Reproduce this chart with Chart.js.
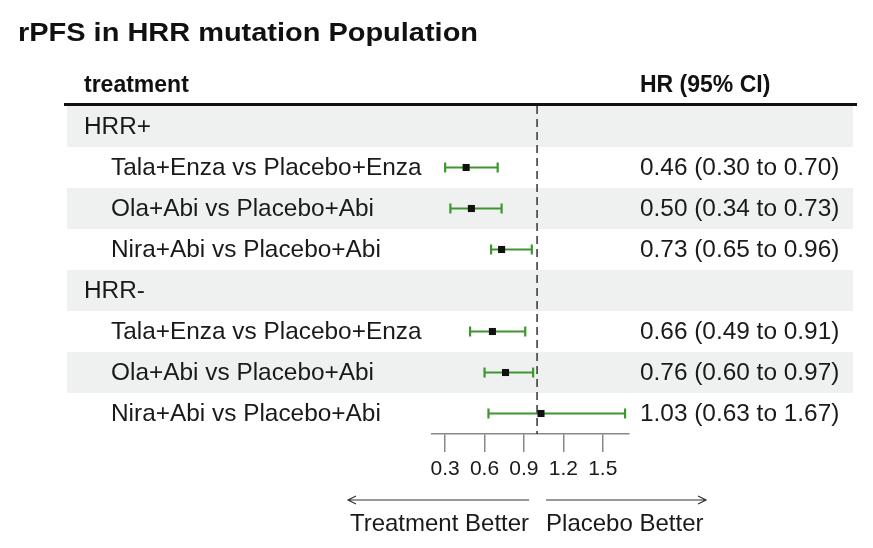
<!DOCTYPE html>
<html>
<head>
<meta charset="utf-8">
<script src="https://cdn.jsdelivr.net/npm/chart.js@4.4.1/dist/chart.umd.min.js"></script>
<style>
  html, body { margin: 0; padding: 0; background: #fff; }
  #wrap { width: 873px; height: 548px; position: relative; }
</style>
</head>
<body>
<div id="wrap"><canvas id="forest"></canvas></div>
<script>
// rows, top to bottom (group headers have no estimate)
const labels = ['HRR+', 'Tala+Enza vs Placebo+Enza', 'Ola+Abi vs Placebo+Abi', 'Nira+Abi vs Placebo+Abi',
                'HRR-', 'Tala+Enza vs Placebo+Enza', 'Ola+Abi vs Placebo+Abi', 'Nira+Abi vs Placebo+Abi'];
const isGroup = [true, false, false, false, true, false, false, false];
const hr    = [null, 0.46, 0.50, 0.73, null, 0.66, 0.76, 1.03];
const lower = [null, 0.30, 0.34, 0.65, null, 0.49, 0.60, 0.63];
const upper = [null, 0.70, 0.73, 0.96, null, 0.91, 0.97, 1.67];
const ciText = ['', '0.46 (0.30 to 0.70)', '0.50 (0.34 to 0.73)', '0.73 (0.65 to 0.96)',
                '', '0.66 (0.49 to 0.91)', '0.76 (0.60 to 0.97)', '1.03 (0.63 to 1.67)'];
const xTicks = [0.3, 0.6, 0.9, 1.2, 1.5];

const FONT = 'Arial, "Liberation Sans", sans-serif';
const GREEN = '#3f9630';

const points = [];
hr.forEach((v, i) => { if (v !== null) points.push({ x: v, y: i }); });

const tablePlugin = {
  id: 'table',
  beforeDatasetsDraw(chart) {
    const ctx = chart.ctx;
    const y = chart.scales.y, x = chart.scales.x;
    const ca = chart.chartArea;
    ctx.save();
    // zebra rows
    labels.forEach((l, i) => {
      if (i % 2 === 0) {
        const t = y.getPixelForValue(i - 0.5), b = y.getPixelForValue(i + 0.5);
        ctx.fillStyle = '#eef1f0';
        ctx.fillRect(67, t, 853 - 67, b - t);
      }
    });
    // title, stretched a little to the reference width
    ctx.fillStyle = '#111';
    ctx.font = 'bold 25px ' + FONT;
    ctx.textBaseline = 'alphabetic';
    const tw = ctx.measureText('rPFS in HRR mutation Population').width;
    ctx.save();
    ctx.translate(18, 41);
    ctx.scale(460 / tw, 1);
    ctx.fillText('rPFS in HRR mutation Population', 0, 0);
    ctx.restore();
    ctx.font = 'bold 23px ' + FONT;
    ctx.fillText('treatment', 84, 92);
    ctx.fillText('HR (95% CI)', 640, 92);
    ctx.fillRect(64, ca.top - 3, 857 - 64, 3);
    // row text
    ctx.font = '24.4px ' + FONT;
    ctx.textBaseline = 'middle';
    ctx.fillStyle = '#1a1a1a';
    labels.forEach((l, i) => {
      const py = y.getPixelForValue(i) + 1;
      ctx.fillText(l, isGroup[i] ? 84 : 111, py);
      if (ciText[i]) ctx.fillText(ciText[i], 640, py);
    });
    // reference line at HR = 1
    const x1 = x.getPixelForValue(1);
    ctx.strokeStyle = '#333';
    ctx.lineWidth = 1.5;
    ctx.setLineDash([8, 5]);
    ctx.beginPath();
    ctx.moveTo(x1, ca.top);
    ctx.lineTo(x1, ca.bottom);
    ctx.stroke();
    ctx.setLineDash([]);
    // confidence intervals
    ctx.strokeStyle = GREEN;
    ctx.lineWidth = 2.2;
    hr.forEach((v, i) => {
      if (v === null) return;
      const py = y.getPixelForValue(i);
      const a = x.getPixelForValue(lower[i]), b = x.getPixelForValue(upper[i]);
      ctx.beginPath();
      ctx.moveTo(a, py); ctx.lineTo(b, py);
      ctx.moveTo(a, py - 5); ctx.lineTo(a, py + 5);
      ctx.moveTo(b, py - 5); ctx.lineTo(b, py + 5);
      ctx.stroke();
    });
    ctx.restore();
  },
  afterDraw(chart) {
    const ctx = chart.ctx;
    const x = chart.scales.x;
    const x1 = x.getPixelForValue(1);
    const ay = 500;
    ctx.save();
    ctx.strokeStyle = '#333';
    ctx.fillStyle = '#1a1a1a';
    ctx.lineWidth = 1.2;
    // left arrow
    ctx.beginPath();
    ctx.moveTo(x1 - 8, ay); ctx.lineTo(348, ay);
    ctx.moveTo(356, ay - 4); ctx.lineTo(348, ay); ctx.lineTo(356, ay + 4);
    // right arrow
    ctx.moveTo(x1 + 9, ay); ctx.lineTo(706, ay);
    ctx.moveTo(698, ay - 4); ctx.lineTo(706, ay); ctx.lineTo(698, ay + 4);
    ctx.stroke();
    ctx.font = '24px ' + FONT;
    ctx.textBaseline = 'middle';
    ctx.textAlign = 'right';
    ctx.fillText('Treatment Better', x1 - 8, 524);
    ctx.textAlign = 'left';
    ctx.fillText('Placebo Better', x1 + 9, 524);
    ctx.restore();
  }
};

new Chart(document.getElementById('forest'), {
  type: 'scatter',
  data: {
    datasets: [{
      data: points,
      pointStyle: 'rect',
      radius: 5,
      backgroundColor: '#111',
      borderColor: '#111',
      borderWidth: 0
    }]
  },
  options: {
    responsive: true,
    maintainAspectRatio: false,
    animation: false,
    layout: { padding: { left: 432, right: 244, top: 106, bottom: 0 } },
    plugins: { legend: { display: false }, tooltip: { enabled: false } },
    scales: {
      x: {
        type: 'linear', min: 0.2, max: 1.7,
        afterBuildTicks(scale) { scale.ticks = xTicks.map(v => ({ value: v })); },
        border: { color: '#888', width: 1.5 },
        grid: { drawOnChartArea: false, drawTicks: true, tickLength: 18, color: '#888', lineWidth: 1.5 },
        ticks: { color: '#1a1a1a', font: { family: FONT, size: 21 }, padding: 5, maxRotation: 0,
                 autoSkip: false, callback: v => v.toFixed(1) },
        afterFit(scale) { scale.height = 114; }
      },
      y: { type: 'linear', min: -0.5, max: 7.5, reverse: true, display: false }
    }
  },
  plugins: [tablePlugin]
});
</script>
</body>
</html>
